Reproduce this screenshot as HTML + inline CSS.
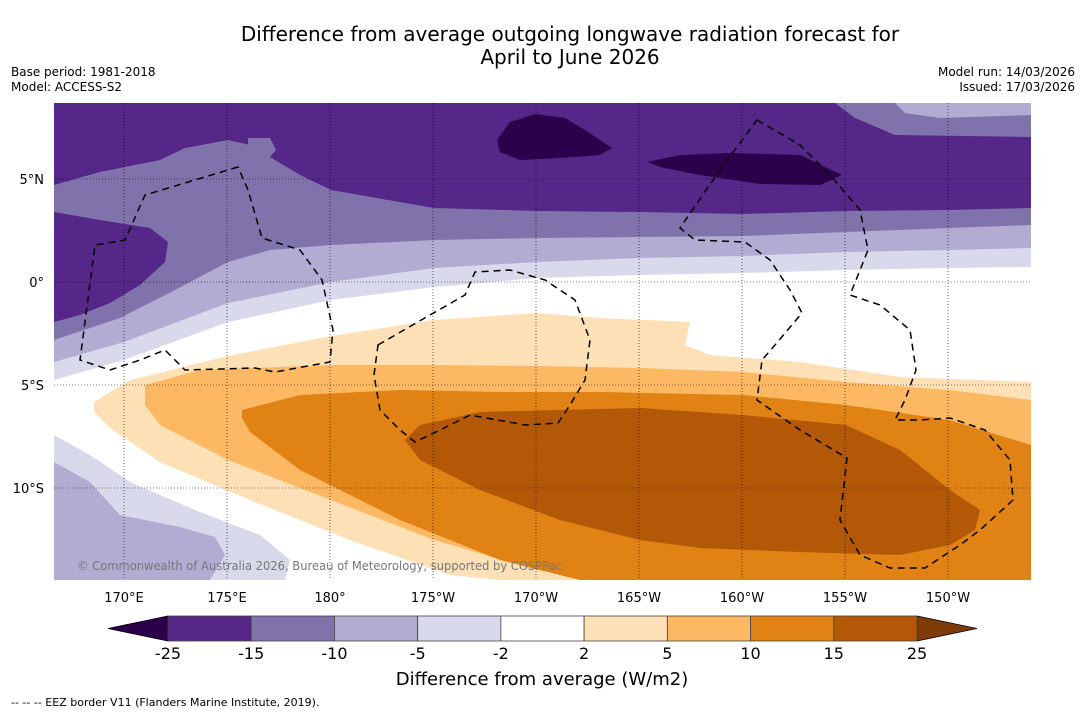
<!DOCTYPE html>
<html><head><meta charset="utf-8"><style>
body{margin:0;background:#fff;font-family:"Liberation Sans","DejaVu Sans",sans-serif;}
svg text{font-family:"DejaVu Sans","Liberation Sans",sans-serif;}
</style></head><body>
<svg id="chart" width="1085" height="713" viewBox="0 0 1085 713" xmlns="http://www.w3.org/2000/svg">
<rect width="1085" height="713" fill="#fff"/>
<text x="570" y="41" font-size="20" text-anchor="middle">Difference from average outgoing longwave radiation forecast for</text>
<text x="570" y="64" font-size="20" text-anchor="middle">April to June 2026</text>
<text x="11" y="76" font-size="12">Base period: 1981-2018</text>
<text x="11" y="91" font-size="12">Model: ACCESS-S2</text>
<text x="1075" y="76" font-size="12" text-anchor="end">Model run: 14/03/2026</text>
<text x="1075" y="91" font-size="12" text-anchor="end">Issued: 17/03/2026</text>
<defs><clipPath id="mapclip"><rect x="54" y="103" width="977" height="477"/></clipPath></defs>
<g clip-path="url(#mapclip)">
<rect x="54" y="103" width="977" height="477" fill="#542788"/>
<path fill="#8073ac" d="M54,185 L100,172 L160,160 L185,148 L228,140 L250,145 L300,175 L331,190 L434,208 L537,211 L640,212 L743,214 L846,211 L949,210 L1031,208 L1031,580 L54,580Z"/>
<path fill="#542788" d="M54,212 L100,220 L150,228 L168,242 L165,262 L140,285 L110,303 L80,315 L54,322Z"/>
<path fill="#b2abd2" d="M54,340 L120,318 L175,290 L228,262 L270,250 L331,245 L434,240 L537,238 L640,237 L743,236 L846,232 L949,228 L1031,225 L1031,580 L54,580Z"/>
<path fill="#d8daeb" d="M54,362 L124,342 L228,303 L331,282 L434,268 L537,262 L640,258 L743,256 L846,252 L949,250 L1031,248 L1031,580 L54,580Z"/>
<path fill="#ffffff" d="M54,380 L124,360 L228,322 L331,300 L434,287 L537,278 L640,275 L743,273 L846,270 L949,268 L1031,267 L1031,580 L54,580Z"/>
<path fill="#fee0b6" d="M94,402 L130,380 L228,356 L331,336 L434,320 L537,313 L600,318 L690,322 L685,345 L710,355 L800,362 L900,377 L1031,382 L1031,580 L500,580 L450,575 L350,540 L250,500 L160,462 L110,428 L94,412Z"/>
<path fill="#fdb863" d="M145,385 L200,370 L331,365 L434,365 L537,366 L640,368 L743,372 L846,382 L949,390 L1031,400 L1031,580 L600,580 L537,570 L434,540 L331,500 L228,460 L160,425 L145,405Z"/>
<path fill="#e08214" d="M242,410 L300,395 L400,390 L500,392 L600,392 L743,395 L846,405 L949,420 L1031,445 L1031,580 L580,580 L500,560 L400,520 L300,470 L250,432 L242,418Z"/>
<path fill="#b35806" d="M405,440 L420,425 L480,412 L560,410 L640,408 L743,415 L846,425 L900,450 L950,490 L980,510 L975,530 L950,545 L900,555 L800,552 L700,548 L640,540 L560,520 L480,490 L420,460Z"/>
<path fill="#d8daeb" d="M54,435 L90,455 L130,482 L200,512 L260,535 L290,560 L285,580 L54,580Z"/>
<path fill="#b2abd2" d="M54,462 L90,482 L120,515 L180,527 L215,537 L225,555 L210,580 L54,580Z"/>
<path fill="#8073ac" d="M835,103 L855,118 L895,135 L1031,137 L1031,103Z"/>
<path fill="#b2abd2" d="M895,103 L905,113 L940,118 L1031,115 L1031,103Z"/>
<path fill="#8073ac" d="M248,138 L270,138 L276,150 L270,157 L253,157 L248,148Z"/>
<path fill="#2d004b" d="M497,140 L510,122 L535,114 L565,118 L585,130 L612,148 L600,155 L560,158 L520,160 L500,152Z"/>
<path fill="#2d004b" d="M647,162 L680,155 L730,153 L800,155 L842,175 L820,185 L760,184 L700,175 L660,167Z"/>
<g stroke="#000" stroke-width="0.6" stroke-dasharray="1,2" fill="none" id="grid"></g>
<g fill="none" stroke="#000" stroke-width="1.5" stroke-dasharray="7,5">
<path d="M238,167 L145,195 L125,240 L95,245 L80,360 L110,370 L140,360 L165,350 L185,370 L255,368 L275,372 L330,362 L333,330 L322,280 L300,250 L262,238 L248,190Z"/>
<path d="M378,345 L430,315 L465,295 L475,272 L510,270 L545,280 L575,300 L590,340 L585,380 L570,405 L558,423 L525,425 L470,415 L440,430 L415,442 L400,430 L380,410 L374,375Z"/>
<path d="M757,120 L800,145 L830,175 L860,210 L868,250 L850,295 L880,305 L910,330 L916,370 L905,400 L895,420 L920,420 L950,418 L985,430 L1010,460 L1013,500 L980,530 L960,545 L925,568 L890,568 L860,555 L840,520 L847,458 L800,430 L757,400 L762,360 L775,345 L802,313 L790,290 L770,260 L745,242 L695,240 L680,228 L720,170Z"/>
</g>
<text x="77" y="570" font-size="12" fill="#777" textLength="485" lengthAdjust="spacingAndGlyphs">© Commonwealth of Australia 2026, Bureau of Meteorology, supported by COSPPac</text>
</g>
<g id="axes"></g>
<g id="cbar"></g>
<text x="542" y="685" font-size="18" text-anchor="middle">Difference from average (W/m2)</text>
<text x="11" y="706" font-size="11">--  --  -- EEZ border V11 (Flanders Marine Institute, 2019).</text>
</svg>
<script>
const lonTicks=[170,175,180,185,190,195,200,205,210];
const lonLabels=["170°E","175°E","180°","175°W","170°W","165°W","160°W","155°W","150°W"];
const latTicks=[5,0,-5,-10];
const latLabels=["5°N","0°","5°S","10°S"];
const levels=[-25,-15,-10,-5,-2,2,5,10,15,25];
const levelColors=["#542788","#8073ac","#b2abd2","#d8daeb","#ffffff","#fee0b6","#fdb863","#e08214","#b35806"];
const extendColors=["#2d004b","#7f3b08"];
const NS="http://www.w3.org/2000/svg";
const xLon=l=>124+(l-170)*20.6;
const yLat=l=>282-l*20.6;
function mk(t,a,p){const e=document.createElementNS(NS,t);for(const k in a)e.setAttribute(k,a[k]);p.appendChild(e);return e;}
const grid=document.getElementById('grid'),axes=document.getElementById('axes'),cb=document.getElementById('cbar');
lonTicks.forEach((l,i)=>{const x=xLon(l);
 const g=mk('line',{x1:x,x2:x,y1:103,y2:580},grid);
 
 
 const t=mk('text',{x:x,y:602,'font-size':13,'text-anchor':'middle'},axes);t.textContent=lonLabels[i];
 
 });
latTicks.forEach((l,i)=>{const y=yLat(l);
 const g=mk('line',{x1:54,x2:1031,y1:y,y2:y},grid);
 
 
 const t=mk('text',{x:44,y:y+5,'font-size':13,'text-anchor':'end'},axes);t.textContent=latLabels[i];
 
 });
const cx0=168,cx1=917,cy0=616,cy1=641,n=levelColors.length,w=(cx1-cx0)/n;
const lt=mk('polygon',{points:`108,${(cy0+cy1)/2} ${cx0},${cy0} ${cx0},${cy1}`,fill:extendColors[0],stroke:'#000','stroke-width':0.8},cb);


const rt=mk('polygon',{points:`977,${(cy0+cy1)/2} ${cx1},${cy0} ${cx1},${cy1}`,fill:extendColors[1],stroke:'#000','stroke-width':0.8},cb);


levelColors.forEach((c,i)=>{const r=mk('rect',{x:cx0+i*w,y:cy0,width:w,height:cy1-cy0,fill:c,stroke:'#444','stroke-width':0.8},cb);
 
 });
levels.forEach((v,i)=>{const t=mk('text',{x:cx0+i*w,y:659,'font-size':16,'text-anchor':'middle'},cb);t.textContent=v;
 
 });
</script>
</body></html>
